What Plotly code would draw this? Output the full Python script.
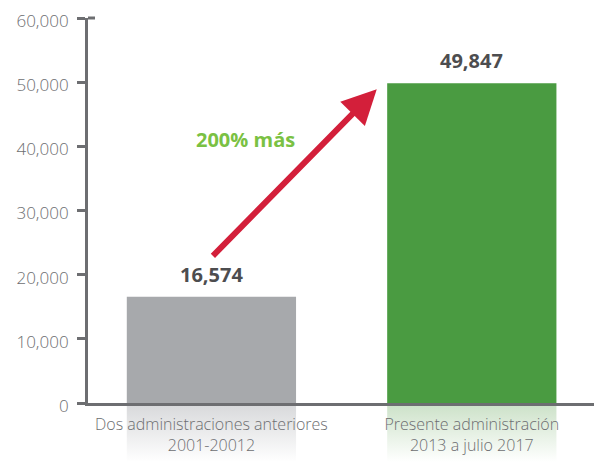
import plotly.graph_objects as go

# ---- data ----
categories = ["Dos administraciones anteriores<br>2001-20012",
              "Presente administración<br>2013 a julio 2017"]
values = [16574, 49847]
value_labels = ["16,574", "49,847"]
bar_colors = ["#a7a9ac", "#4a9b41"]
reflect_colors = ["#d7d8da", "#cbe1c7"]
y_ticks = [0, 10000, 20000, 30000, 40000, 50000, 60000]
growth_label = "200% más"
arrow_start = (0.0, 22700)
arrow_end = (0.635, 48900)

# ---- style ----
# the page body adds an 8px offset, so the figure is sized to fill the rest
AXIS_COLOR = "#6d6e71"
TEXT_DARK = "#4d4d4f"
BAR_WIDTH = 0.65
W, H = 594, 454
M_L, M_T = 80, 10
AXIS_Y_PX = 395
plot_h = H - M_T
main_bottom = (H - AXIS_Y_PX) / plot_h
FONT = "Open Sans"

xpos = list(range(len(categories)))

fig = go.Figure()

# reflection (below the axis) on yaxis (drawn first)
for i, x in enumerate(xpos):
    fig.add_trace(go.Scatter(
        x=[x - BAR_WIDTH / 2, x + BAR_WIDTH / 2, x + BAR_WIDTH / 2, x - BAR_WIDTH / 2, x - BAR_WIDTH / 2],
        y=[0, 0, -1, -1, 0],
        mode="lines", line=dict(width=0), fill="toself",
        fillgradient=dict(type="vertical",
                          colorscale=[[0, "rgba(255,255,255,1)"], [1, reflect_colors[i]]]),
        hoverinfo="skip", showlegend=False, xaxis="x", yaxis="y"))

# main bars on yaxis2
fig.add_trace(go.Bar(x=xpos, y=values, marker=dict(color=bar_colors, line=dict(width=0)),
                     width=BAR_WIDTH, xaxis="x", yaxis="y2", showlegend=False,
                     hoverinfo="skip"))

# value labels
for x, v, t in zip(xpos, values, value_labels):
    fig.add_annotation(x=x, y=v, xref="x", yref="y2", text=f"<b>{t}</b>", showarrow=False,
                       yanchor="bottom", yshift=7,
                       font=dict(family=FONT, size=20, color=TEXT_DARK))

# arrow
fig.add_annotation(x=arrow_end[0], y=arrow_end[1], ax=arrow_start[0], ay=arrow_start[1],
                   xref="x", yref="y2", axref="x", ayref="y2", text="", showarrow=True,
                   arrowhead=2, arrowsize=1.15, arrowwidth=6, arrowcolor="#d31f3a")

fig.add_annotation(x=0.13, y=41000, xref="x", yref="y2", text=f"<b>{growth_label}</b>",
                   showarrow=False, font=dict(family=FONT, size=20, color="#7ac143"))

# top tick extending to the right of the axis
fig.add_shape(type="line", xref="paper", yref="paper", x0=0, x1=7 / (W - M_L), y0=1, y1=1,
              line=dict(color=AXIS_COLOR, width=3))

fig.update_layout(
    width=W, height=H,
    margin=dict(l=M_L, r=0, t=M_T, b=0, autoexpand=False),
    plot_bgcolor="white", paper_bgcolor="white",
    font=dict(family=FONT, color=AXIS_COLOR),
    xaxis=dict(range=[-0.474, 1.5], anchor="y2", tickmode="array", tickvals=xpos,
               ticktext=categories, showline=True, linecolor=AXIS_COLOR, linewidth=3,
               ticks="", showgrid=False, zeroline=False, automargin=False,
               ticklabelstandoff=5, ticklabeloverflow="allow",
               tickfont=dict(family=FONT, size=16, color=AXIS_COLOR, weight=300)),
    yaxis=dict(domain=[0, main_bottom], range=[-1, 0], visible=False, fixedrange=True,
               automargin=False),
    yaxis2=dict(domain=[main_bottom, 1], range=[0, 60000], anchor="x",
                tickvals=y_ticks, tickformat=",", showline=True, linecolor=AXIS_COLOR,
                linewidth=3, ticks="outside", ticklen=8, tickwidth=3, tickcolor=AXIS_COLOR,
                showgrid=False, zeroline=False, ticklabelstandoff=5, automargin=False,
                ticklabeloverflow="allow", ticklabelshift=3,
                tickfont=dict(family=FONT, size=17, color=AXIS_COLOR, weight=300)),
)

fig.write_html("out.html")
